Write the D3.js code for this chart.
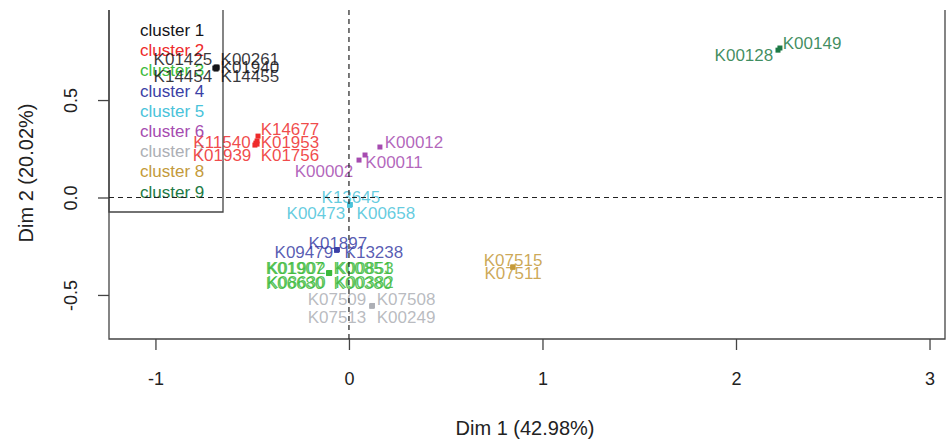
<!DOCTYPE html>
<html>
<head>
<meta charset="utf-8">
<script src="https://cdn.jsdelivr.net/npm/d3@7"></script>
<style>
  body { margin: 0; background: #fff; }
  text { font-family: "Liberation Sans", Arial, sans-serif; }
</style>
</head>
<body>
<div id="chart"></div>
<script>
var svgWidth = 946;
var svgHeight = 441;

// individuals
var names = ["K01425","K00261","K01940","K14454","K14455",
    "K11540","K14677","K01953","K01939","K01756",
    "K01907","K01902","K00851","K00853","K06680","K08630","K00380","K00382",
    "K01897","K09479","K13238",
    "K13645","K00473","K00658",
    "K00012","K00011","K00002",
    "K07509","K07508","K07513","K00249",
    "K07515","K07511",
    "K00149","K00128"];
var clusters = [1,1,1,1,1, 2,2,2,2,2, 3,3,3,3,3,3,3,3, 4,4,4, 5,5,5, 6,6,6, 7,7,7,7, 8,8, 9,9];
var dim1 = [-0.687,-0.682,-0.682,-0.693,-0.687,
    -0.481,-0.470,-0.475,-0.486,-0.475,
    -0.103,-0.100,-0.105,-0.101,-0.104,-0.102,-0.100,-0.103,
    -0.062,-0.064,-0.060,
    0.005,0.003,0.007,
    0.160,0.052,0.083,
    0.119,0.121,0.118,0.120,
    0.848,0.846,
    2.227,2.217];
var dim2 = [0.669,0.669,0.664,0.664,0.659,
    0.279,0.315,0.290,0.269,0.274,
    -0.387,-0.385,-0.390,-0.388,-0.386,-0.389,-0.387,-0.385,
    -0.269,-0.271,-0.267,
    -0.038,-0.040,-0.036,
    0.259,0.192,0.218,
    -0.556,-0.554,-0.558,-0.556,
    -0.356,-0.358,
    0.767,0.756];
// label anchors (data units, as placed in the original plot)
var labX = [-0.858,-0.512,-0.512,-0.858,-0.512,
    -0.656,-0.305,-0.305,-0.656,-0.305,
    -0.279,-0.272,0.072,0.080,-0.279,-0.272,0.072,0.080,
    -0.057,-0.233,0.129,
    0.010,-0.171,0.191,
    0.336,0.233,-0.129,
    -0.062,0.295,-0.062,0.295,
    0.848,0.848,
    2.393,2.041];
var labY = [0.710,0.710,0.669,0.623,0.623,
    0.285,0.351,0.285,0.218,0.218,
    -0.362,-0.360,-0.362,-0.360,-0.438,-0.436,-0.438,-0.436,
    -0.233,-0.279,-0.279,
    0.003,-0.079,-0.079,
    0.285,0.182,0.136,
    -0.521,-0.521,-0.613,-0.613,
    -0.321,-0.387,
    0.792,0.731];

var clusterNames = ["cluster 1","cluster 2","cluster 3","cluster 4","cluster 5",
    "cluster 6","cluster 7","cluster 8","cluster 9"];
var clusterColors = ["#141418","#ee2b2b","#3dba3d","#3b3fa6","#4ac3da",
    "#a64bb0","#adafb5","#c49a3a","#1d7a45"];

var xTicks = [-1, 0, 1, 2, 3];
var yTicks = [-0.5, 0, 0.5];

var plot = {left: 109, right: 945, top: 10, bottom: 339};

var svg = d3.select("#chart")
    .append("svg")
    .attr("width", svgWidth)
    .attr("height", svgHeight);

var xScale = d3.scaleLinear()
    .domain([-1.24, 3.08])
    .range([plot.left, plot.right]);
var yScale = d3.scaleLinear()
    .domain([-0.726, 0.962])
    .range([plot.bottom, plot.top]);

var axisColor = "#444";
// R prints a plain hyphen for negatives
var hyphen = f => (d => f(d).replace("\u2212", "-"));

// axes
var xAxis = svg.append("g")
    .attr("transform", `translate(0,${plot.bottom})`)
    .call(d3.axisBottom(xScale).tickValues(xTicks).tickSize(11).tickPadding(22).tickFormat(hyphen(d3.format("d"))));
var yAxis = svg.append("g")
    .attr("transform", `translate(${plot.left},0)`)
    .call(d3.axisLeft(yScale).tickValues(yTicks).tickSize(11).tickFormat(hyphen(d3.format(".1f"))));

[xAxis, yAxis].forEach(function(a){
    a.select(".domain").remove();
    a.selectAll("line").attr("stroke", axisColor).attr("stroke-width", 1.3);
    a.selectAll("text").attr("fill", "#222").style("font-size", "18px");
});
yAxis.selectAll("text")
    .attr("transform", "rotate(-90)")
    .attr("x", 0)
    .attr("y", -38)
    .attr("dy", "0.35em")
    .attr("text-anchor", "middle");

// box (top edge is cut off)
svg.append("path")
    .attr("d", `M${plot.left},${plot.top}V${plot.bottom}H${plot.right}V${plot.top}`)
    .attr("fill", "none")
    .attr("stroke", axisColor)
    .attr("stroke-width", 1.3);

// axis titles
svg.append("text")
    .attr("x", 525)
    .attr("y", 428)
    .attr("dy", "0.35em")
    .attr("text-anchor", "middle")
    .style("font-size", "20px")
    .attr("fill", "#222")
    .text("Dim 1 (42.98%)");
svg.append("text")
    .attr("transform", "translate(26,173) rotate(-90)")
    .attr("dy", "0.35em")
    .attr("text-anchor", "middle")
    .style("font-size", "20px")
    .attr("fill", "#222")
    .text("Dim 2 (20.02%)");

// legend
svg.append("path")
    .attr("d", `M${plot.left},${plot.top}V212H223V${plot.top}`)
    .attr("fill", "none")
    .attr("stroke", axisColor)
    .attr("stroke-width", 1.3);
svg.selectAll(".legend")
    .data(clusterNames)
    .enter()
    .append("text")
    .attr("x", 140)
    .attr("y", (d, i) => 30 + i * 20.2)
    .attr("dy", "0.35em")
    .style("font-size", "17px")
    .attr("fill", (d, i) => clusterColors[i])
    .text(d => d);

var idx = d3.range(names.length);

// points
svg.selectAll(".pt")
    .data(idx)
    .enter()
    .append("rect")
    .attr("x", i => xScale(dim1[i]) - 2.5)
    .attr("y", i => yScale(dim2[i]) - 2.5)
    .attr("width", 5)
    .attr("height", 5)
    .attr("fill", i => clusterColors[clusters[i] - 1]);

// labels
svg.selectAll(".lab")
    .data(idx)
    .enter()
    .append("text")
    .attr("x", i => xScale(labX[i]))
    .attr("y", i => yScale(labY[i]))
    .attr("dy", "0.35em")
    .attr("text-anchor", "middle")
    .style("font-size", "17px")
    .attr("fill", i => clusterColors[clusters[i] - 1])
    .attr("fill-opacity", 0.85)
    .text(i => names[i]);

// reference lines
svg.append("line")
    .attr("x1", xScale(0)).attr("x2", xScale(0))
    .attr("y1", plot.top).attr("y2", plot.bottom)
    .attr("stroke", "#222").attr("stroke-width", 1.2)
    .attr("stroke-dasharray", "5,4");
svg.append("line")
    .attr("x1", plot.left).attr("x2", plot.right)
    .attr("y1", yScale(0)).attr("y2", yScale(0))
    .attr("stroke", "#222").attr("stroke-width", 1.2)
    .attr("stroke-dasharray", "5,4");
</script>
</body>
</html>
